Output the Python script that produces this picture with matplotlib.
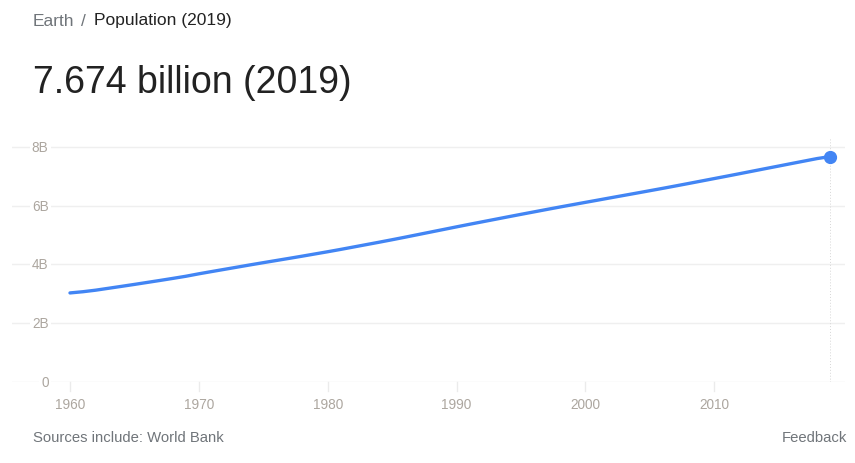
import numpy as np
import matplotlib.pyplot as plt
from matplotlib.transforms import blended_transform_factory

plt.rcParams['font.family'] = ['Liberation Sans', 'DejaVu Sans']

# World population, billions (World Bank)
years = np.arange(1960, 2020)
population = [3.032, 3.073, 3.126, 3.191, 3.256, 3.322, 3.390, 3.458, 3.528, 3.600,
              3.683, 3.760, 3.836, 3.912, 3.988, 4.062, 4.135, 4.208, 4.282, 4.358,
              4.434, 4.513, 4.595, 4.677, 4.759, 4.843, 4.929, 5.017, 5.105, 5.193,
              5.281, 5.368, 5.453, 5.538, 5.623, 5.707, 5.790, 5.873, 5.955, 6.035,
              6.115, 6.194, 6.274, 6.353, 6.432, 6.512, 6.592, 6.674, 6.757, 6.841,
              6.925, 7.009, 7.094, 7.180, 7.266, 7.351, 7.437, 7.522, 7.607, 7.674]
xticks = [1960, 1970, 1980, 1990, 2000, 2010]
yticks = [0, 2, 4, 6, 8]
ylabels = ['0', '2B', '4B', '6B', '8B']

W, H = 855, 464
fig = plt.figure(figsize=(W / 100, H / 100), dpi=100)
ax = fig.add_axes([12 / W, (H - 383) / H, (845 - 12) / W, (383 - 138) / H])

blue = '#4285f4'
ax.plot(years, population, color=blue, lw=2.4, solid_capstyle='round', zorder=3)
ax.plot(years[-1], population[-1], 'o', color=blue, ms=8.5, zorder=4)
ax.axvline(years[-1], color='#d6d6d6', lw=0.7, ls=(0, (1, 2)), zorder=2)

ax.set_xlim(1955.5, 2020.15)
ax.set_ylim(0, 8.34)

for s in ax.spines.values():
    s.set_visible(False)
ax.set_yticks([])
ax.set_xticks([])

for y in yticks:
    ax.axhline(y, color='#efefef', lw=1, zorder=1)

tick_color = '#aca69f'
trans = blended_transform_factory(ax.transAxes, ax.transData)
for y, lab in zip(yticks, ylabels):
    ax.text(36.5 / 833, y, lab, transform=trans, ha='right', va='center',
            fontsize=9.8, color=tick_color, zorder=2,
            bbox=dict(facecolor='white', edgecolor='none', pad=1.5))

for x in xticks:
    ax.plot([x, x], [0, -0.3], color='#ebebeb', lw=1, clip_on=False)
    ax.text(x, -0.5, str(x), ha='center', va='top', fontsize=9.8, color=tick_color)

fig.text(33 / W, 1 - 21 / H, 'Earth', fontsize=12.5, color='#70757a', va='center')
fig.text(81 / W, 1 - 21 / H, '/', fontsize=12.5, color='#70757a', va='center')
fig.text(94 / W, 1 - 21 / H, 'Population (2019)', fontsize=12.5, color='#222222', va='center')
fig.text(33 / W, 1 - 83 / H, '7.674 billion (2019)', fontsize=27, color='#222222', va='center')
fig.text(33 / W, 1 - 438 / H, 'Sources include: World Bank', fontsize=10.7, color='#70757a', va='center')
fig.text(847 / W, 1 - 438 / H, 'Feedback', fontsize=10.7, color='#70757a', va='center', ha='right')

fig.savefig('out.png', dpi=100)
